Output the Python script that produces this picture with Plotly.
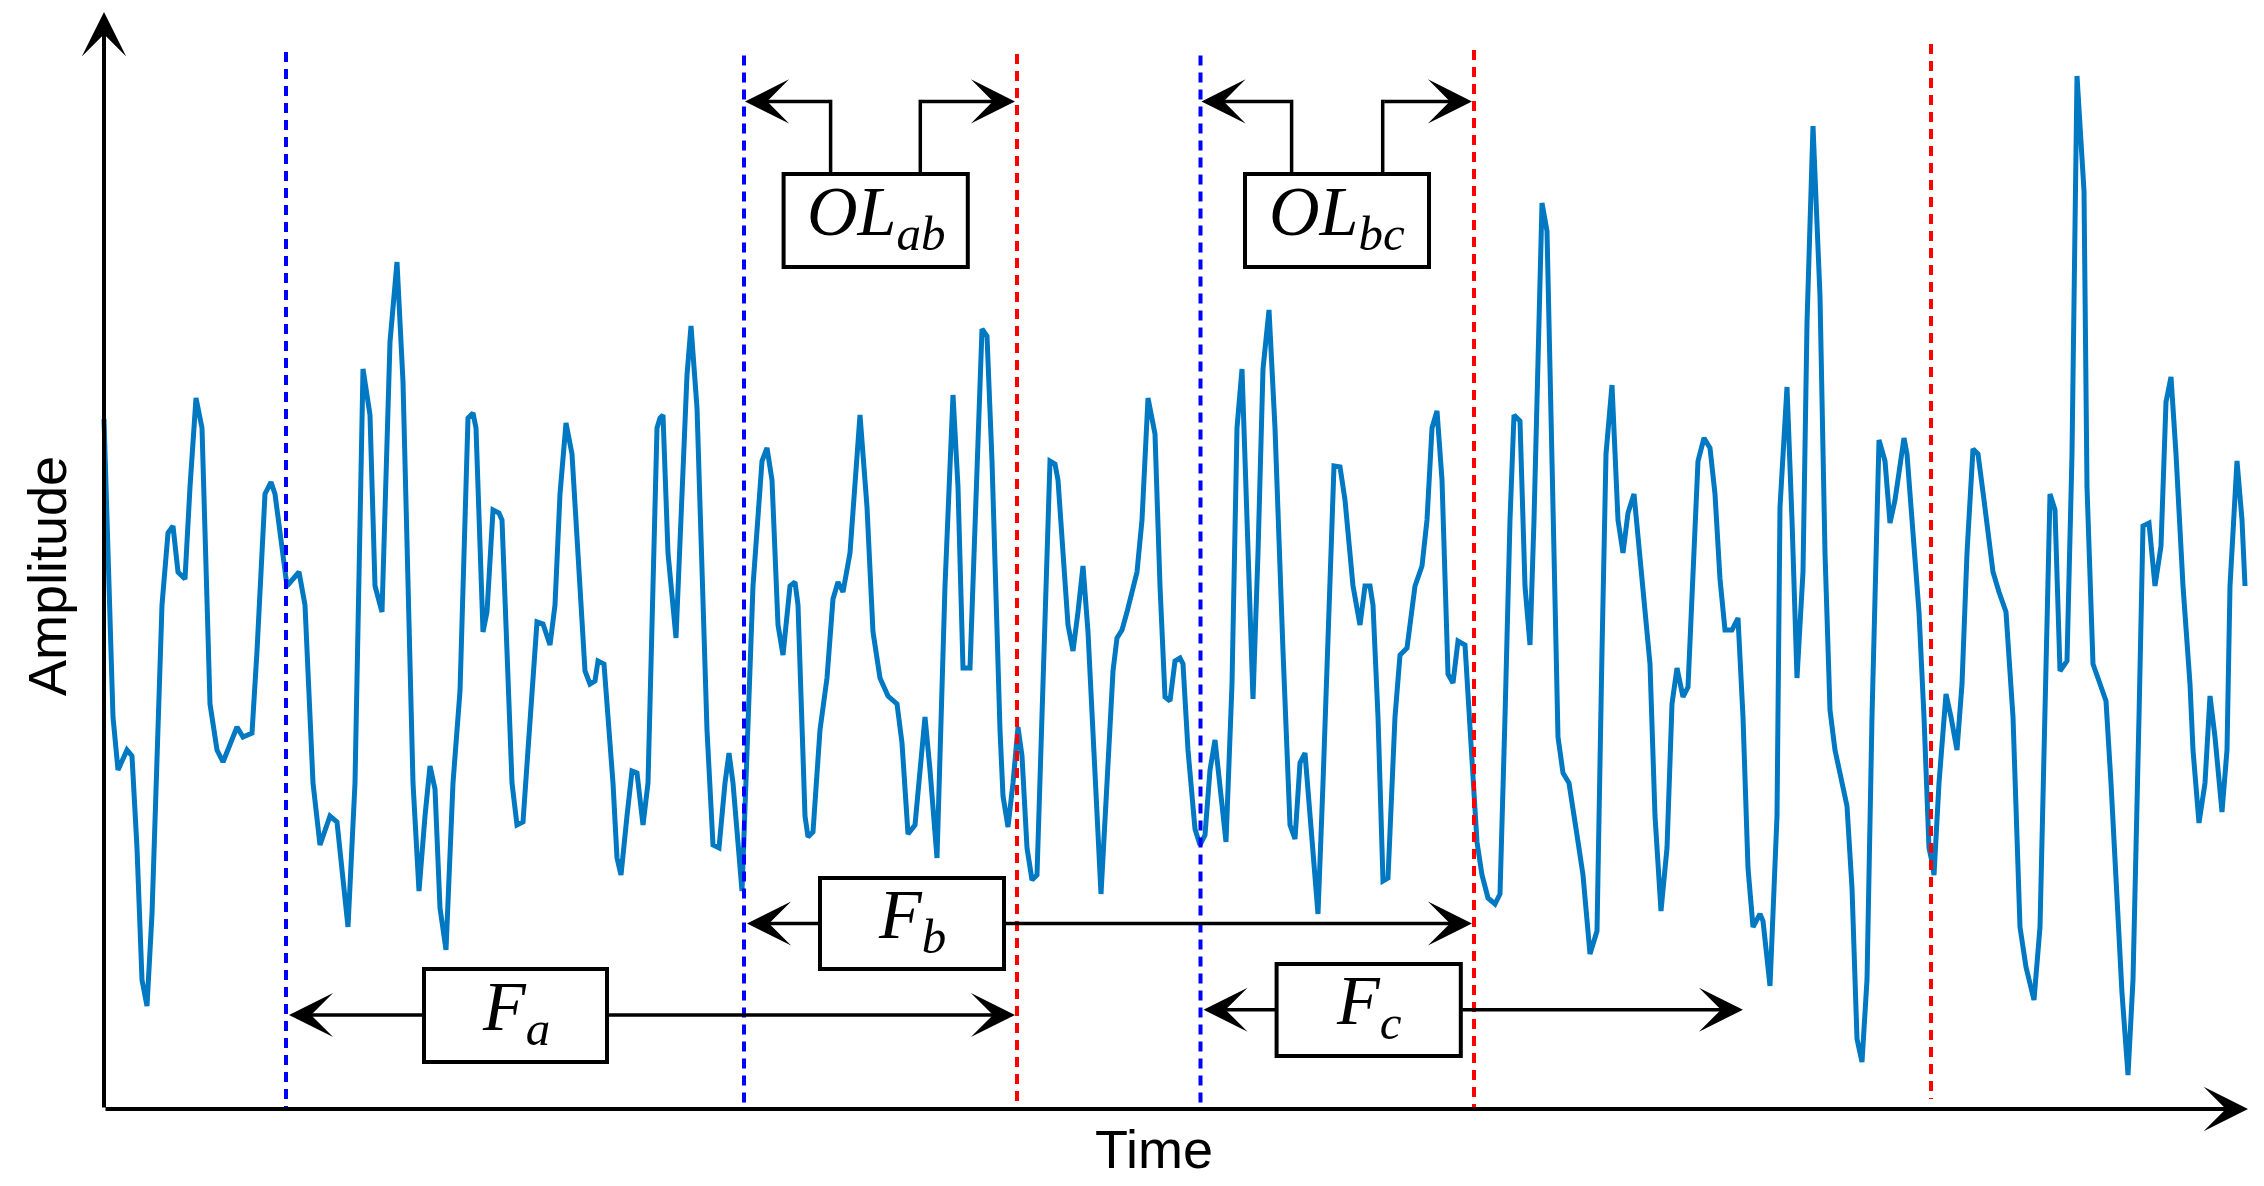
import plotly.graph_objects as go

# ---------------- data ----------------
time = [0, 9, 14, 23, 28, 33, 38, 43, 48, 58, 64, 69, 74, 81, 86, 92, 98, 106, 113, 119,
        133, 139, 148, 153, 161, 167, 171, 183, 189, 195, 201, 209, 216, 226, 233, 244, 251,
        259, 266, 271, 278, 286, 293, 299, 309, 315, 321, 326, 331, 336, 342, 349, 356, 364,
        369, 372, 379, 383, 389, 395, 398, 408, 413, 419, 424, 433, 439, 446, 451, 456, 462,
        468, 481, 486, 491, 494, 500, 509, 513, 517, 523, 528, 533, 539, 544, 553, 556, 559,
        564, 572, 583, 587, 593, 603, 609, 615, 621, 625, 629, 638, 649, 658, 663, 668, 674,
        679, 686, 691, 694, 701, 704, 709, 716, 723, 729, 734, 739, 746, 756, 763, 769, 776,
        784, 793, 798, 804, 811, 821, 826, 833, 841, 849, 854, 859, 866, 873, 878, 883, 888,
        896, 899, 904, 909, 914, 918, 923, 928, 933, 938, 946, 951, 954, 964, 969, 974, 979,
        984, 991, 997, 1003, 1009, 1013, 1018, 1023, 1033, 1038, 1044, 1051, 1056, 1061, 1066,
        1071, 1076, 1079, 1084, 1091, 1096, 1101, 1106, 1111, 1116, 1122, 1128, 1133, 1138,
        1143, 1149, 1154, 1159, 1165, 1171, 1179, 1186, 1191, 1196, 1201, 1206, 1214, 1219,
        1226, 1230, 1236, 1241, 1249, 1256, 1261, 1266, 1269, 1274, 1279, 1284, 1291, 1296,
        1303, 1311, 1318, 1323, 1328, 1333, 1338, 1344, 1349, 1354, 1361, 1368, 1373, 1378,
        1384, 1391, 1396, 1401, 1406, 1410, 1416, 1421, 1426, 1430, 1438, 1443, 1448, 1454,
        1459, 1465, 1473, 1479, 1486, 1493, 1498, 1502, 1508, 1514, 1519, 1524, 1530, 1536,
        1546, 1551, 1557, 1563, 1568, 1573, 1579, 1584, 1589, 1594, 1600, 1606, 1611, 1616,
        1621, 1628, 1634, 1639, 1644, 1649, 1656, 1659, 1666, 1673, 1676, 1683, 1688, 1693,
        1699, 1703, 1709, 1716, 1721, 1726, 1731, 1743, 1748, 1753, 1758, 1763, 1768, 1773,
        1775, 1781, 1786, 1791, 1800, 1803, 1810, 1815, 1820, 1825, 1828, 1830, 1835, 1842,
        1847, 1853, 1858, 1863, 1869, 1874, 1880, 1889, 1895, 1902, 1909, 1916, 1922, 1930,
        1936, 1941, 1946, 1951, 1956, 1963, 1968, 1973, 1980, 1983, 1989, 1995, 2002, 2007,
        2012, 2018, 2024, 2029, 2035, 2039, 2045, 2051, 2057, 2062, 2067, 2072, 2079, 2086,
        2089, 2095, 2101, 2106, 2111, 2118, 2123, 2126, 2133, 2138, 2141]

amplitude = [690, 392, 339, 359, 353, 261, 129, 103, 195, 504, 576, 583, 537, 530, 622, 711, 681,
             405, 359, 347, 382, 372, 376, 458, 615, 627, 615, 523, 530, 537, 504, 326, 264, 293,
             287, 182, 326, 740, 694, 523, 497, 767, 847, 727, 326, 218, 293, 343, 320, 201, 159,
             326, 418, 691, 696, 681, 477, 497, 599, 596, 589, 326, 284, 287, 359, 487, 485, 464,
             504, 615, 686, 655, 438, 425, 428, 448, 445, 326, 251, 234, 293, 338, 336, 284, 326,
             681, 691, 694, 556, 471, 734, 783, 701, 379, 264, 261, 326, 356, 326, 218, 523, 648,
             661, 629, 484, 454, 523, 527, 504, 293, 272, 277, 379, 431, 510, 527, 517, 556, 694,
             602, 477, 431, 413, 405, 366, 275, 284, 392, 339, 251, 523, 714, 622, 441, 441, 642,
             780, 773, 648, 379, 313, 282, 326, 382, 353, 261, 229, 234, 392, 648, 645, 629, 484,
             458, 497, 543, 477, 326, 215, 326, 438, 471, 479, 497, 537, 589, 711, 675, 523, 412,
             408, 448, 451, 445, 359, 280, 264, 274, 339, 369, 326, 267, 425, 681, 740, 589, 410,
             556, 740, 799, 681, 458, 284, 270, 346, 356, 293, 195, 326, 537, 643, 642, 609, 523,
             484, 523, 523, 504, 392, 228, 231, 392, 454, 461, 523, 543, 589, 681, 698, 629, 435,
             426, 468, 464, 359, 267, 234, 211, 205, 215, 392, 589, 694, 688, 523, 464, 589, 906,
             878, 655, 372, 336, 326, 274, 234, 155, 178, 458, 655, 724, 589, 556, 596, 615, 550,
             445, 293, 198, 261, 405, 441, 412, 422, 523, 648, 671, 661, 615, 530, 479, 479, 491,
             392, 241, 182, 195, 188, 123, 293, 602, 722, 589, 431, 537, 786, 983, 813, 556, 399,
             359, 303, 221, 70, 47, 129, 392, 589, 669, 648, 586, 609, 671, 655, 563, 497, 392,
             261, 247, 234, 326, 415, 392, 359, 425, 556, 660, 655, 609, 537, 517, 497, 392, 182,
             142, 109, 182, 392, 615, 599, 438, 448, 655, 1033, 918, 622, 445, 428, 408, 326, 228,
             116, 34, 129, 392, 583, 586, 523, 563, 707, 732, 655, 523, 425, 359, 286, 326, 413,
             372, 297, 359, 523, 648, 589, 523]

# frame boundaries (time)
frame_starts = [182, 640, 1096.5]      # blue dashed lines
frame_ends = [913, 1370, 1827]         # red dashed lines
frame_c_arrow_end = 1641
frame_labels = ["<i>F</i><sub><i>a</i></sub>", "<i>F</i><sub><i>b</i></sub>",
                "<i>F</i><sub><i>c</i></sub>"]
overlap_labels = ["<i>OL</i><sub><i>ab</i></sub>", "<i>OL</i><sub><i>bc</i></sub>"]

# ---------------- figure ----------------
# the page body has an 8px margin, so the figure is 8px smaller than the window
PAGE_MARGIN = 8
W, H = 2264 - PAGE_MARGIN, 1186 - PAGE_MARGIN
X0, Y0 = 104 - PAGE_MARGIN, 1109 - PAGE_MARGIN   # axes origin inside the figure
fig = go.Figure()

fig.add_trace(go.Scatter(x=time, y=amplitude, mode="lines",
                         line=dict(color="#0078C2", width=5), hoverinfo="skip"))

blue_tops = [1057, 1053.5, 1053.5]
red_tops = [1055, 1059, 1065]
red_bottoms = [0, 0, 10]
for t, top in zip(frame_starts, blue_tops):
    fig.add_trace(go.Scatter(x=[t, t], y=[top, 0], mode="lines", hoverinfo="skip",
                             line=dict(color="#0000FF", width=4, dash="10px,7px")))
for t, top, bot in zip(frame_ends, red_tops, red_bottoms):
    fig.add_trace(go.Scatter(x=[t, t], y=[top, bot], mode="lines", hoverinfo="skip",
                             line=dict(color="#FF0000", width=4, dash="10px,7px")))

LW = 3.5
ASZ = 2.1


def arrow(x0, y0, x1, y1, width=LW, size=ASZ):
    fig.add_annotation(x=x1, y=y1, ax=x0, ay=y0, xref="x", yref="y", axref="x", ayref="y",
                       text="", showarrow=True, arrowhead=3, arrowsize=size,
                       arrowwidth=width, arrowcolor="black", standoff=0)


def box(x0, x1, y0, y1, label):
    fig.add_shape(type="rect", x0=x0, x1=x1, y0=y0, y1=y1, xref="x", yref="y",
                  line=dict(color="black", width=4), fillcolor="white", layer="above")
    fig.add_annotation(x=(x0 + x1) / 2, y=(y0 + y1) / 2, xref="x", yref="y", text=label,
                       showarrow=False, xanchor="center", yanchor="middle", yshift=4,
                       font=dict(family="Liberation Serif", size=70, color="black"))


# axes with arrows
arrow(0, 0, 2144, 0, width=4, size=1.85)
arrow(0, 0, 0, 1097, width=4, size=1.85)

# frame boxes and arrows
fa = (320, 503, 47, 140, 94)
fb = (716, 900, 140, 231, 185.5)
fc = (1172.6, 1356.8, 53, 145, 99.3)
ends = [frame_ends[0], frame_ends[1], frame_c_arrow_end]
for (bx0, bx1, by0, by1, ay), s, e, lab in zip([fa, fb, fc], frame_starts, ends, frame_labels):
    arrow(bx0, ay, s + 3, ay)
    arrow(bx1, ay, e - 2, ay)
    box(bx0, bx1, by0, by1, lab)

# overlap boxes with bracket arrows
ol_boxes = [(679.6, 863.8, 726.6, 816.3), (1141, 1325, 1187.6, 1278.7)]
ol_spans = [(frame_starts[1], frame_ends[0]), (frame_starts[2], frame_ends[1])]
top_y = 1007.6
for (bx0, bx1, sx0, sx1), (s, e), lab in zip(ol_boxes, ol_spans, overlap_labels):
    for sx in (sx0, sx1):
        fig.add_shape(type="line", x0=sx, x1=sx, y0=935, y1=top_y + 1.7, xref="x", yref="y",
                      line=dict(color="black", width=LW), layer="above")
    arrow(sx0, top_y, s + 1, top_y)
    arrow(sx1, top_y, e - 2, top_y)
    box(bx0, bx1, 842, 935, lab)

# axis titles
fig.add_annotation(x=1050, y=-40, xref="x", yref="y", text="Time", showarrow=False,
                   xanchor="center", yanchor="middle",
                   font=dict(family="Liberation Sans", size=54, color="black"))
fig.add_annotation(x=-57, y=533, xref="x", yref="y", text="Amplitude", showarrow=False,
                   textangle=-90, xanchor="center", yanchor="middle",
                   font=dict(family="Liberation Sans", size=54, color="black"))

fig.update_layout(
    width=W, height=H, autosize=False,
    margin=dict(l=0, r=0, t=0, b=0, pad=0),
    paper_bgcolor="white", plot_bgcolor="white",
    showlegend=False,
    xaxis=dict(range=[-X0, W - X0], visible=False, fixedrange=True),
    yaxis=dict(range=[Y0 - H, Y0], visible=False, fixedrange=True),
)

fig.write_html("out.html", config={"displayModeBar": False})
